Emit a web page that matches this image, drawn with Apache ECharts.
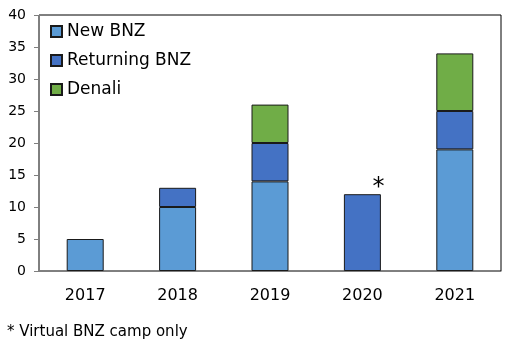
<!DOCTYPE html>
<html>
<head>
<meta charset="utf-8">
<script src="https://cdn.jsdelivr.net/npm/echarts@6/dist/echarts.min.js"></script>
<style>
  html, body { margin: 0; padding: 0; background: #fff; }
  #chart { width: 512px; height: 346px; }
</style>
</head>
<body>
<div id="chart"></div>
<script>
// Camp participants per year, stacked by group
const years = ['2017', '2018', '2019', '2020', '2021'];
const newBNZ = [5, 10, 14, 0, 19];
const returningBNZ = [0, 3, 6, 12, 6];
const denali = [0, 0, 6, 0, 9];
const yTicks = [0, 5, 10, 15, 20, 25, 30, 35, 40];
const footnote = '* Virtual BNZ camp only';
const virtualYear = '2020';

const FONT = 'DejaVu Sans';
const chart = echarts.init(document.getElementById('chart'), null, { renderer: 'canvas' });

function seriesOf(name, values, color, withMark) {
  return {
    name: name,
    type: 'bar',
    stack: 'total',
    barWidth: 37,
    itemStyle: { color: color, borderColor: '#1a1a1a', borderWidth: 1 },
    data: values.map((v, i) => {
      const item = { value: v === 0 ? null : v };
      if (withMark && years[i] === virtualYear) {
        item.label = {
          show: true, position: 'top', formatter: '*',
          offset: [16, 11], fontSize: 24, color: '#000', fontFamily: FONT
        };
      }
      return item;
    })
  };
}

chart.setOption({
  animation: false,
  backgroundColor: '#fff',
  grid: {
    left: 39, right: 11, top: 15, bottom: 75,
    show: true, borderColor: '#000', borderWidth: 1
  },
  legend: {
    orient: 'vertical',
    left: 45, top: 18,
    itemWidth: 11, itemHeight: 11, itemGap: 12,
    icon: 'rect',
    textStyle: { fontFamily: FONT, fontSize: 17, color: '#000', lineHeight: 17 },
    data: ['New BNZ', 'Returning BNZ', 'Denali']
  },
  xAxis: {
    type: 'category',
    data: years,
    axisLine: { lineStyle: { color: '#7f7f7f', width: 1 } },
    axisTick: { show: false },
    axisLabel: { fontFamily: FONT, fontSize: 16, color: '#000', margin: 17 }
  },
  yAxis: {
    type: 'value',
    min: yTicks[0], max: yTicks[yTicks.length - 1], interval: 5,
    axisLine: { show: true, lineStyle: { color: '#7f7f7f', width: 1 } },
    axisTick: { show: true, length: 5, lineStyle: { color: '#7f7f7f' } },
    splitLine: { show: false },
    axisLabel: { fontFamily: FONT, fontSize: 14, color: '#000', margin: 13 }
  },
  graphic: [{
    type: 'text', left: 7, top: 325,
    style: { text: footnote, fontFamily: FONT, fontSize: 15, fill: '#000' }
  }],
  series: [
    seriesOf('New BNZ', newBNZ, '#5b9bd5', false),
    seriesOf('Returning BNZ', returningBNZ, '#4472c4', true),
    seriesOf('Denali', denali, '#70ad47', false)
  ]
});
</script>
</body>
</html>
